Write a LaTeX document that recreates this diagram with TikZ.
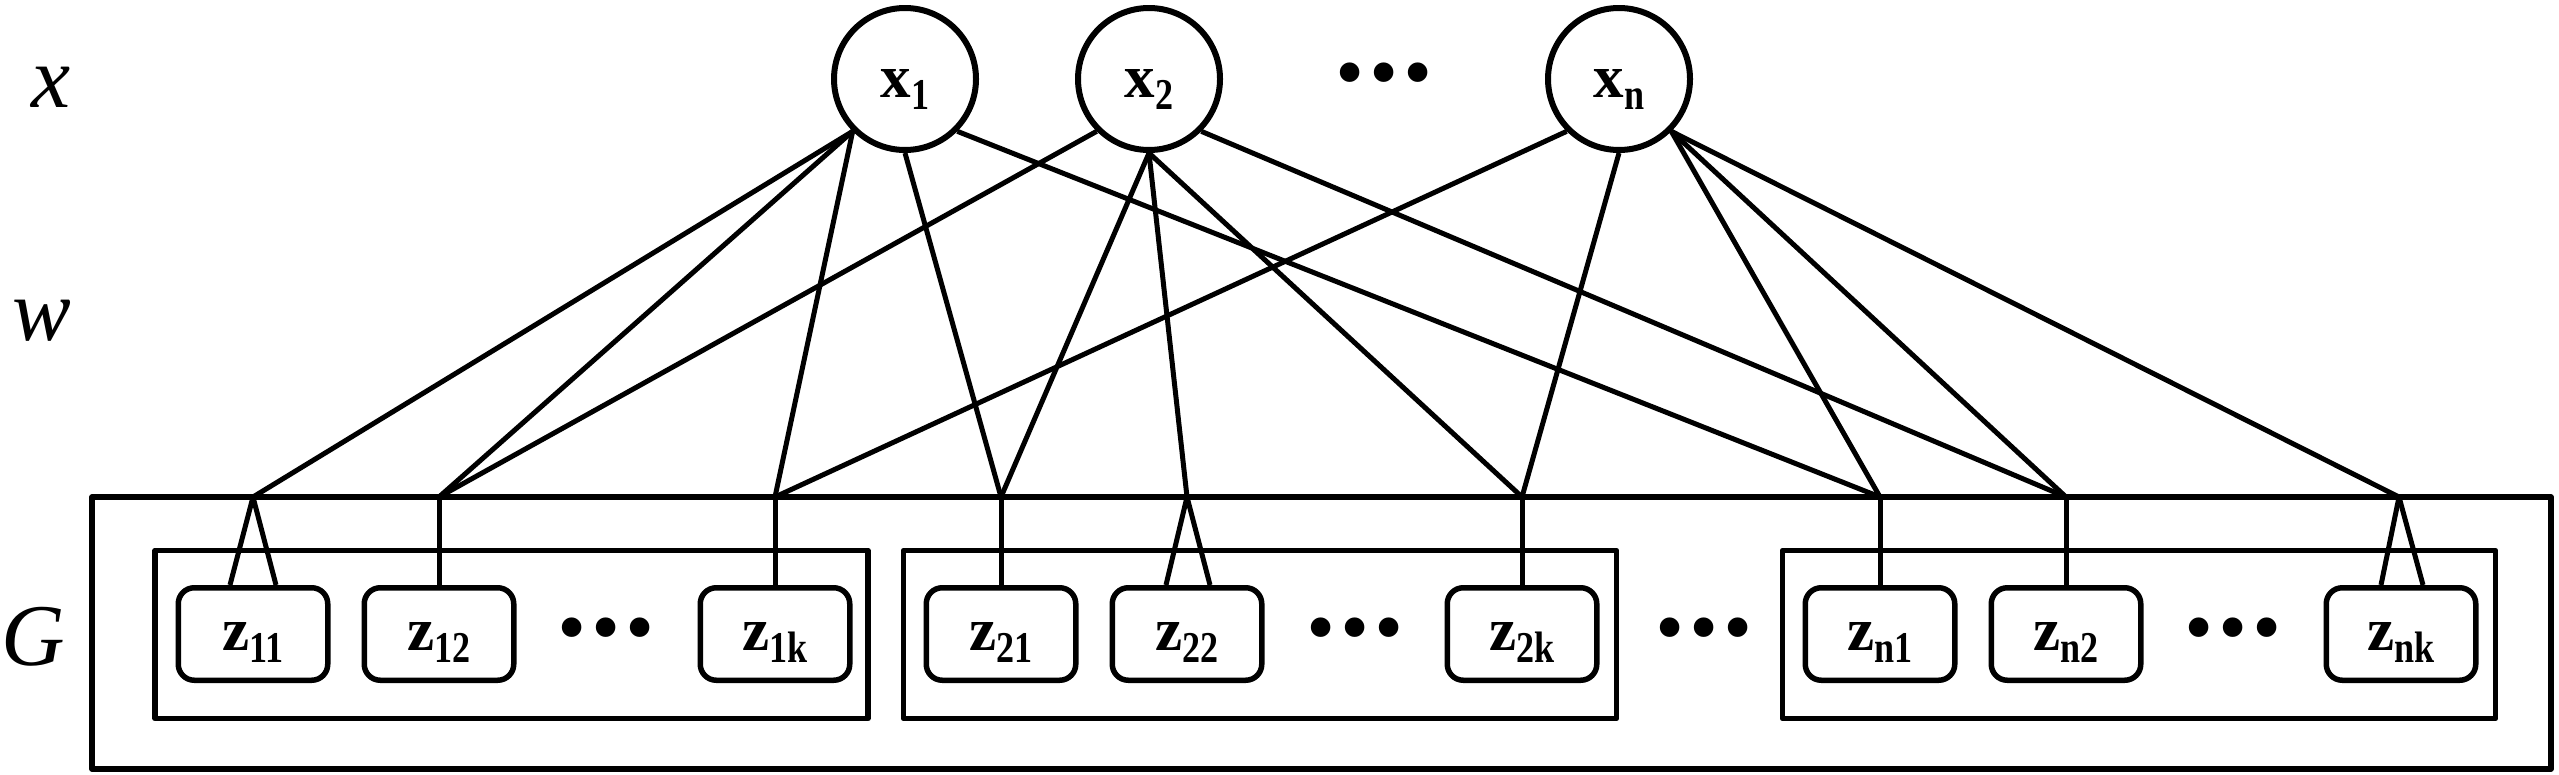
\documentclass[tikz,border=0pt]{standalone}
\usepackage{fontspec}
\setmainfont{Liberation Serif}
\usepackage{graphicx}
\newcommand\xsub[1]{\raisebox{-12pt}{\scalebox{0.82}[1]{\fontsize{44}{46}\selectfont\bfseries #1}}}
\newcommand\threedots{\textbullet\hspace{9pt}\textbullet\hspace{9pt}\textbullet}
\begin{document}
\begin{tikzpicture}[x=1pt,y=-1pt,line width=5pt,line join=round,
  xnode/.style={circle,draw,line width=6pt,minimum size=142pt,inner sep=0pt,
    font=\fontsize{61}{66}\selectfont\bfseries,text height=40pt,text depth=4pt},
  znode/.style={draw,rounded corners=16pt,line width=5.5pt,minimum width=149.5pt,
    minimum height=92.5pt,inner sep=0pt,font=\fontsize{61}{66}\selectfont\bfseries,
    text height=36pt,text depth=4pt},
  gbox/.style={draw,line width=5.5pt,inner sep=0pt,minimum width=713pt,minimum height=168pt},
  lab/.style={font=\fontsize{88}{92}\selectfont\itshape,inner sep=0pt,anchor=base},
  dotsnode/.style={font=\fontsize{72}{74}\selectfont\bfseries,inner sep=0pt}]
\useasboundingbox (0,0) rectangle (2559,774);
% left labels
\node[lab] (lx) at (51,107) {x};
\node[lab] (lw) at (42,340) {w};
\node[lab] (lG) at (33,665) {G};
% x nodes
\node[xnode] (x1) at (905,79) {x\xsub{1}};
\node[xnode] (x2) at (1149,79) {x\xsub{2}};
\node[xnode] (xn) at (1619,79) {x\xsub{n}};
\node[dotsnode] (dx) at (1384,80) {\threedots};
% boxes
\node[draw,line width=5.5pt,inner sep=0pt,minimum width=2459pt,minimum height=272pt] (G) at (1321.5,633) {};
\node[gbox] (g1) at (511.5,634.5) {};
\node[gbox] (g2) at (1260,634.5) {};
\node[gbox] (g3) at (2139,634.5) {};
% z nodes
\node[znode] (z11) at (253,634) {z\xsub{11}};
\node[znode] (z12) at (439,634) {z\xsub{12}};
\node[znode] (z1k) at (775,634) {z\xsub{1k}};
\node[znode] (z21) at (1001,634) {z\xsub{21}};
\node[znode] (z22) at (1187,634) {z\xsub{22}};
\node[znode] (z2k) at (1522,634) {z\xsub{2k}};
\node[znode] (zn1) at (1880,634) {z\xsub{n1}};
\node[znode] (zn2) at (2066,634) {z\xsub{n2}};
\node[znode] (znk) at (2401,634) {z\xsub{nk}};
\node[dotsnode] (d1) at (606,635) {\threedots};
\node[dotsnode] (d2) at (1355,635) {\threedots};
\node[dotsnode] (d3) at (1704,635) {\threedots};
\node[dotsnode] (d4) at (2233,635) {\threedots};
% connection points on top of G
\coordinate (c11) at (253,497);
\coordinate (c12) at (439,497);
\coordinate (c1k) at (775,497);
\coordinate (c21) at (1001,497);
\coordinate (c22) at (1187,497);
\coordinate (c2k) at (1522,497);
\coordinate (cn1) at (1880,497);
\coordinate (cn2) at (2066,497);
\coordinate (cnk) at (2399,497);
% connectors from x
\draw (x1.225) -- (c11);
\draw (x1.225) -- (c12);
\draw (x1.225) -- (c1k);
\draw (x1.south) -- (c21);
\draw (x1.-45) -- (cn1);
\draw (x2.225) -- (c12);
\draw (x2.south) -- (c21);
\draw (x2.south) -- (c22);
\draw (x2.south) -- (c2k);
\draw (x2.-45) -- (cn2);
\draw (xn.225) -- (c1k);
\draw (xn.south) -- (c2k);
\draw (xn.-45) -- (cn1);
\draw (xn.-45) -- (cn2);
\draw (xn.-45) -- (cnk);
% drops to z nodes
\draw (c11) -- ([xshift=-23pt]z11.north);
\draw (c11) -- ([xshift=23pt]z11.north);
\draw (c12) -- (z12.north);
\draw (c1k) -- (z1k.north);
\draw (c21) -- (z21.north);
\draw (c22) -- ([xshift=-21pt]z22.north);
\draw (c22) -- ([xshift=23pt]z22.north);
\draw (c2k) -- (z2k.north);
\draw (cn1) -- (zn1.north);
\draw (cn2) -- (zn2.north);
\draw (cnk) -- ([xshift=-20pt]znk.north);
\draw (cnk) -- ([xshift=22pt]znk.north);
\end{tikzpicture}
\end{document}
